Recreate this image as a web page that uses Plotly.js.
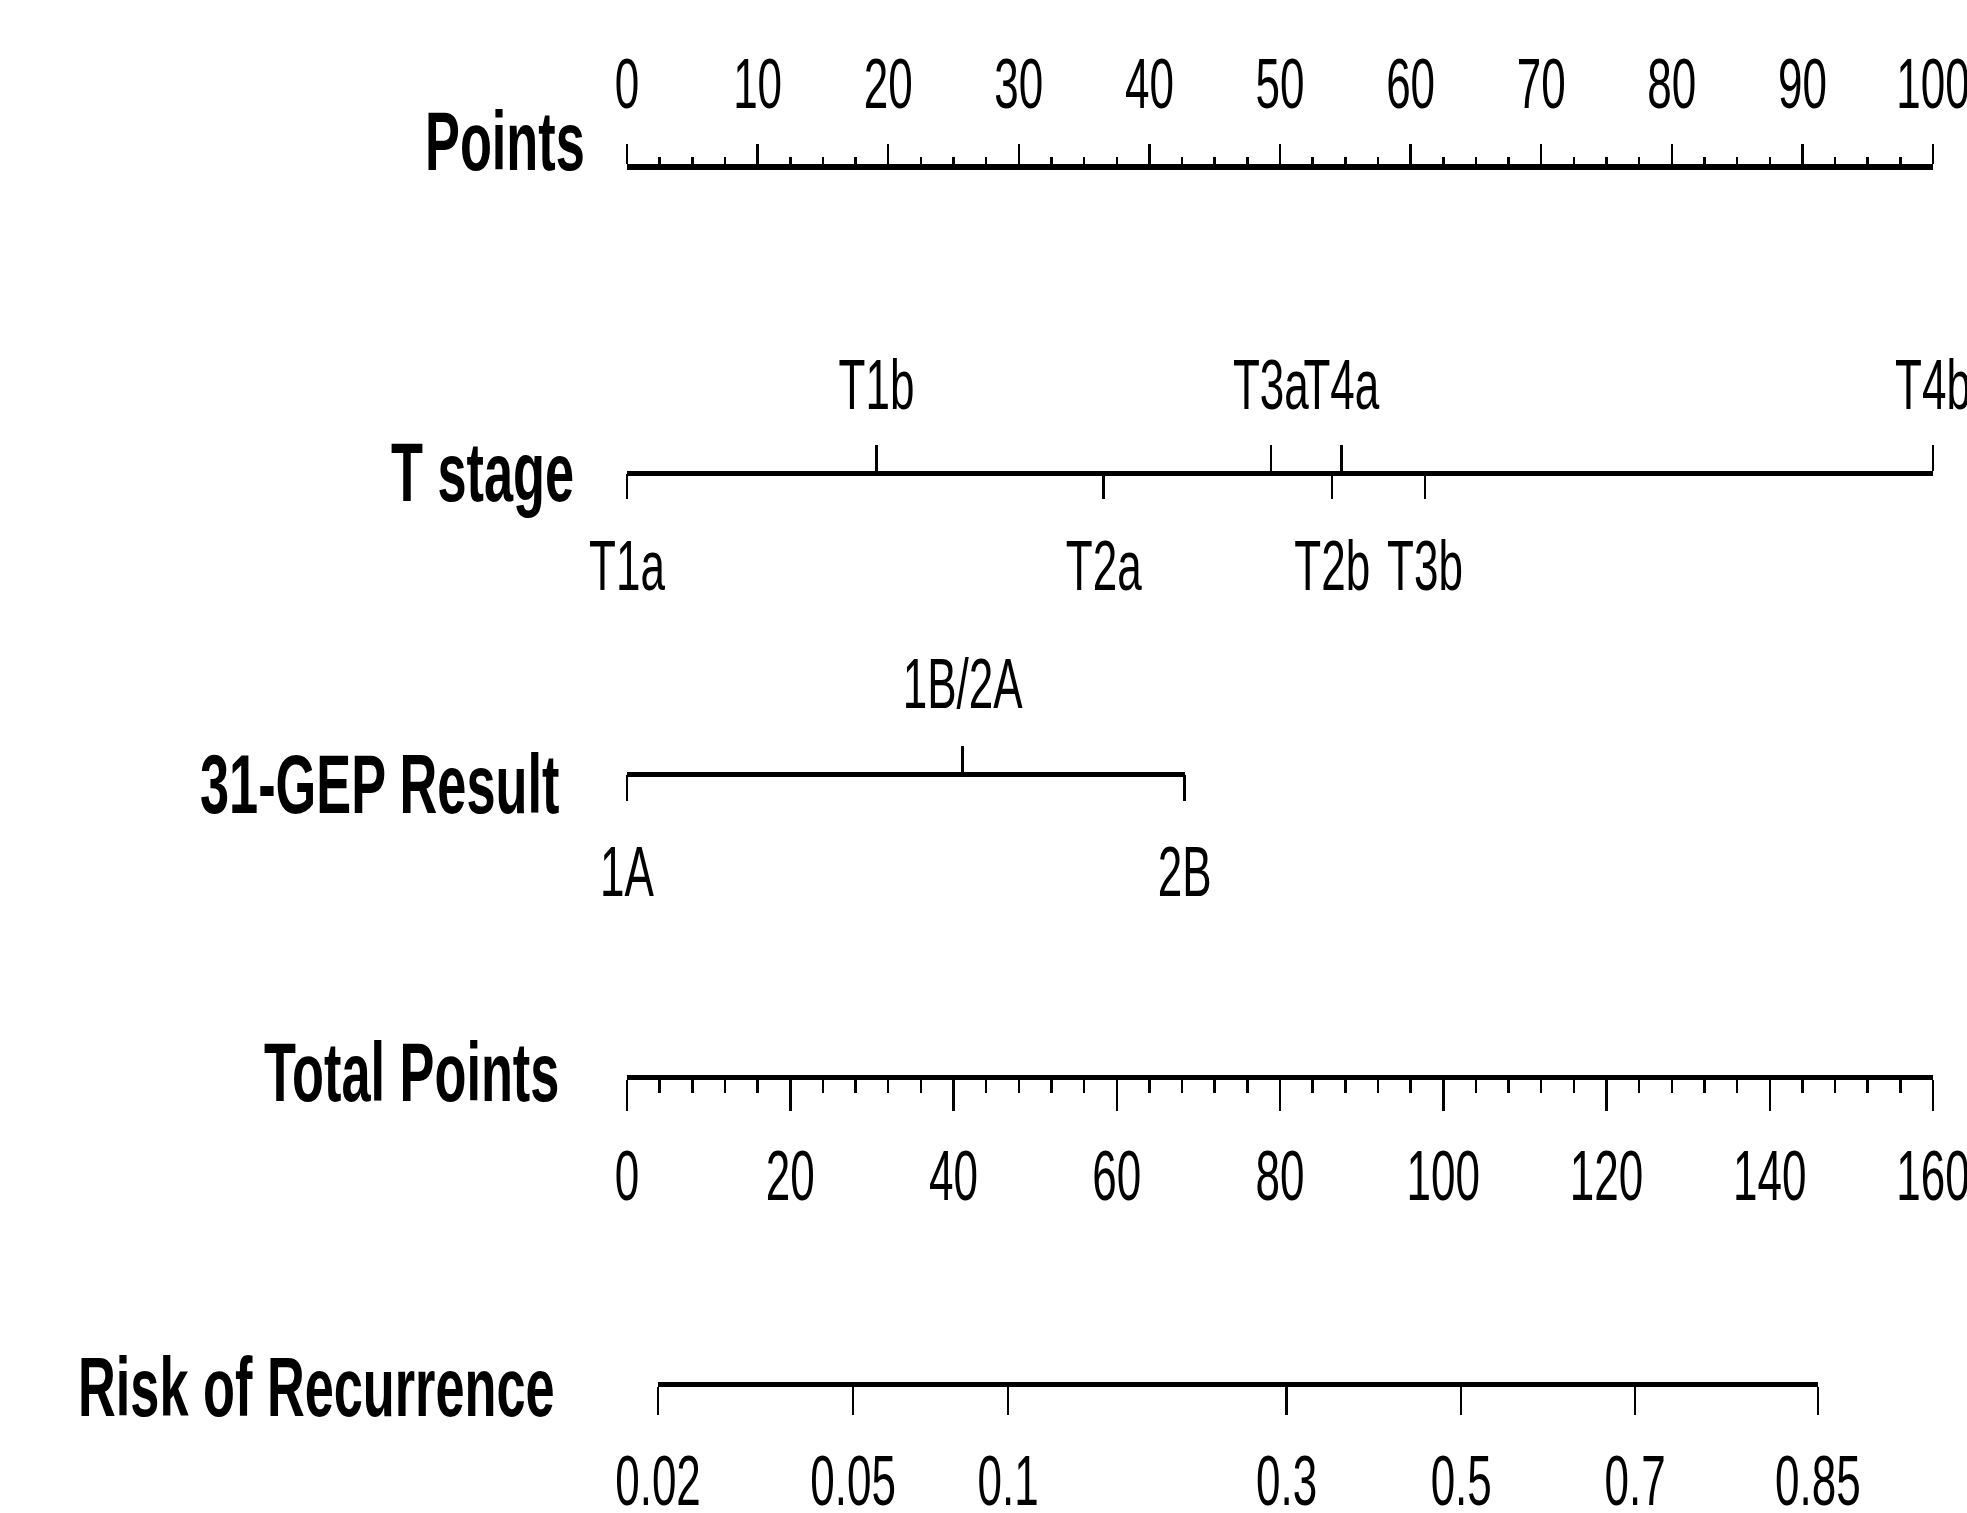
<!DOCTYPE html>
<html>
<head>
<meta charset="utf-8">
<script src="https://cdn.plot.ly/plotly-3.0.1.min.js"></script>
<style>
  html, body { margin: 0; padding: 0; background: #ffffff; width: 1967px; height: 1513px; overflow: hidden; }
  #frame { position: relative; width: 1967px; height: 1513px; overflow: hidden; }
  /* The nomogram is laid out on a short canvas and stretched vertically,
     which gives the tall, condensed lettering and heavy horizontal rules. */
  #nomogram { position: absolute; left: 0; top: 0; width: 1967px; height: 946px;
              transform: scaleY(1.6); transform-origin: 0 0; }
</style>
</head>
<body>
<div id="frame"><div id="nomogram"></div></div>
<script>
// ---- Nomogram data -------------------------------------------------------
const pointsTicks = [0, 10, 20, 30, 40, 50, 60, 70, 80, 90, 100];

const tStageLabels = ['T1a', 'T1b', 'T2a', 'T2b', 'T3a', 'T3b', 'T4a', 'T4b'];
const tStagePoints = [0, 19.1, 36.5, 54.0, 49.3, 61.1, 54.7, 100];

const gepLabels = ['1A', '1B/2A', '2B'];
const gepPoints = [0, 25.7, 42.7];

const totalTicks = [0, 20, 40, 60, 80, 100, 120, 140, 160];

const riskLabels = ['0.02', '0.05', '0.1', '0.3', '0.5', '0.7', '0.85'];
const riskTotalPoints = [3.8, 27.7, 46.7, 80.8, 102.2, 123.5, 145.9];

const rowTitles = ['Points', 'T stage', '31-GEP Result', 'Total Points', 'Risk of Recurrence'];

// ---- Page geometry (displayed pixels) -----------------------------------
const W = 1967, H = 1513;
const axisLeft = 627, axisRight = 1933;
const rowY = [166, 472, 773, 1076, 1383];
const titleRight = [587, 576, 561, 561, 557];
const titleY = [140, 472, 783, 1072, 1386];
const FONT = 'Liberation Sans, Arial, Helvetica, sans-serif';

const fx = px => px / W;
const fy = py => 1 - py / H;
const spanDomain = (lo, hi, full) => [
  fx(axisLeft + (lo / full) * (axisRight - axisLeft)),
  fx(axisLeft + (hi / full) * (axisRight - axisLeft))
];

// Levels of a categorical predictor alternate below / above the rule
// in order of their point values.
function splitAlternating(labels, values) {
  const order = values.map((v, i) => i).sort((a, b) => values[a] - values[b]);
  const below = { vals: [], text: [] }, above = { vals: [], text: [] };
  order.forEach((idx, k) => {
    const side = (k % 2 === 0) ? below : above;
    side.vals.push(values[idx]);
    side.text.push(labels[idx]);
  });
  return { above, below };
}

function scaleAxis(opts) {
  return Object.assign({
    anchor: 'free', showgrid: false, zeroline: false, fixedrange: true,
    tickmode: 'array', tickangle: 0, ticks: 'outside',
    tickcolor: '#000', tickwidth: 2.5, ticklabeloverflow: 'allow',
    tickfont: { family: FONT, size: 44, color: '#000' },
    linecolor: '#000', linewidth: 3.4, showline: false
  }, opts);
}

const tSplit = splitAlternating(tStageLabels, tStagePoints);
const gSplit = splitAlternating(gepLabels, gepPoints);
const gepMax = Math.max(...gepPoints);
const tMax = Math.max(...tStagePoints);
const totalMax = totalTicks[totalTicks.length - 1];
const pointsMax = pointsTicks[pointsTicks.length - 1];

const axes = {
  xaxis: scaleAxis({
    domain: spanDomain(0, pointsMax, pointsMax), range: [0, pointsMax],
    position: fy(rowY[0]), side: 'top', showline: true,
    tickvals: pointsTicks, ticktext: pointsTicks.map(String),
    ticklen: 13, ticklabelstandoff: 5,
    minor: { ticks: 'outside', tick0: 0, dtick: 2.5, ticklen: 4.5, tickwidth: 2.5, tickcolor: '#000', showgrid: false }
  }),
  xaxis2: scaleAxis({
    domain: spanDomain(0, tMax, pointsMax), range: [0, tMax],
    position: fy(rowY[1]), side: 'top', showline: true,
    tickvals: tSplit.above.vals, ticktext: tSplit.above.text,
    ticklen: 16, ticklabelstandoff: 5
  }),
  xaxis3: scaleAxis({
    domain: spanDomain(0, tMax, pointsMax), range: [0, tMax],
    position: fy(rowY[1]), side: 'bottom',
    tickvals: tSplit.below.vals, ticktext: tSplit.below.text,
    ticklen: 16, ticklabelstandoff: 4
  }),
  xaxis4: scaleAxis({
    domain: spanDomain(0, gepMax, pointsMax), range: [0, gepMax],
    position: fy(rowY[2]), side: 'top', showline: true,
    tickvals: gSplit.above.vals, ticktext: gSplit.above.text,
    ticklen: 16, ticklabelstandoff: 6
  }),
  xaxis5: scaleAxis({
    domain: spanDomain(0, gepMax, pointsMax), range: [0, gepMax],
    position: fy(rowY[2]), side: 'bottom',
    tickvals: gSplit.below.vals, ticktext: gSplit.below.text,
    ticklen: 16, ticklabelstandoff: 7
  }),
  xaxis6: scaleAxis({
    domain: spanDomain(0, totalMax, totalMax), range: [0, totalMax],
    position: fy(rowY[3]), side: 'bottom', showline: true,
    tickvals: totalTicks, ticktext: totalTicks.map(String),
    ticklen: 19, ticklabelstandoff: 3,
    minor: { ticks: 'outside', tick0: 0, dtick: 4, ticklen: 8, tickwidth: 2.5, tickcolor: '#000', showgrid: false }
  }),
  xaxis7: scaleAxis({
    domain: spanDomain(riskTotalPoints[0], riskTotalPoints[riskTotalPoints.length - 1], totalMax),
    range: [riskTotalPoints[0], riskTotalPoints[riskTotalPoints.length - 1]],
    position: fy(rowY[4]), side: 'bottom', showline: true,
    tickvals: riskTotalPoints, ticktext: riskLabels,
    ticklen: 17, ticklabelstandoff: 4
  })
};

// One transparent trace per scale so each axis gets its subplot.
const traces = Object.keys(axes).map((key, i) => ({
  type: 'scatter', mode: 'markers',
  x: axes[key].tickvals, y: axes[key].tickvals.map(() => null),
  xaxis: i === 0 ? 'x' : 'x' + (i + 1), yaxis: 'y',
  marker: { opacity: 0 }, hoverinfo: 'skip', showlegend: false
}));

const annotations = rowTitles.map((t, i) => ({
  text: t, xref: 'paper', yref: 'paper',
  x: fx(titleRight[i]), y: fy(titleY[i]),
  xanchor: 'right', yanchor: 'middle', showarrow: false,
  font: { family: FONT, size: 52.3, weight: 700, color: '#000' }
}));

const layout = Object.assign({
  width: W, height: 946,
  margin: { l: 0, r: 0, t: 0, b: 0, pad: 0 },
  paper_bgcolor: '#ffffff', plot_bgcolor: 'rgba(0,0,0,0)',
  showlegend: false,
  yaxis: { domain: [0, 1], range: [0, 1], visible: false, fixedrange: true },
  annotations: annotations
}, axes);

Plotly.newPlot('nomogram', traces, layout, { staticPlot: true, displayModeBar: false });
</script>
</body>
</html>
